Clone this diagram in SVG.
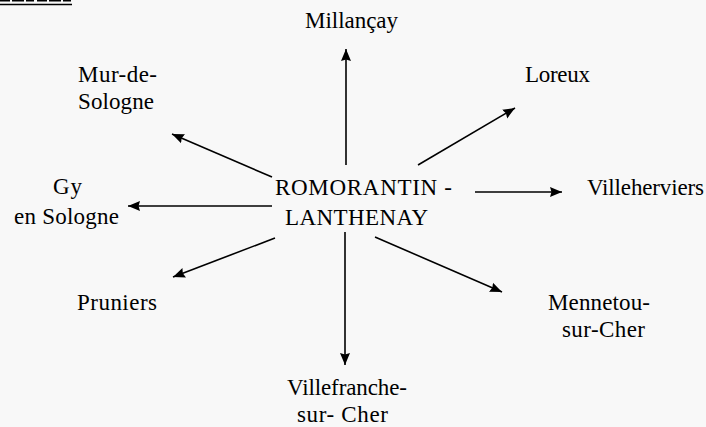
<svg xmlns="http://www.w3.org/2000/svg" width="706" height="427" viewBox="0 0 706 427">
<style>
text{font-family:"Liberation Serif","Times New Roman",serif;font-size:23px;fill:#000}
.c{stroke:#000;stroke-width:1.6;fill:none}
</style>
<defs>
<marker id="ah" markerUnits="userSpaceOnUse" markerWidth="14" markerHeight="12" refX="12" refY="6" orient="auto">
<path d="M0,1 L12,6 L0,11 L1.5,6 Z" fill="#000"/>
</marker>
</defs>
<rect width="706" height="427" fill="#f8f8f8"/>
<g id="title-fragment">
<line x1="0" y1="0.8" x2="72" y2="0.8" stroke="#000" stroke-width="1.5" stroke-dasharray="10,2,12,2,8,3"/>
<line x1="0" y1="4.5" x2="72" y2="4.5" stroke="#000" stroke-width="1.5"/>
</g>
<g id="connectors">
<line class="c" x1="346" y1="165" x2="346" y2="49" marker-end="url(#ah)"/>
<line class="c" x1="345" y1="232" x2="345" y2="365" marker-end="url(#ah)"/>
<line class="c" x1="475" y1="192" x2="562" y2="192" marker-end="url(#ah)"/>
<line class="c" x1="272" y1="206" x2="128" y2="206" marker-end="url(#ah)"/>
<line class="c" x1="272" y1="177" x2="172" y2="134" marker-end="url(#ah)"/>
<line class="c" x1="418" y1="165" x2="515" y2="108" marker-end="url(#ah)"/>
<line class="c" x1="275" y1="238" x2="173" y2="277" marker-end="url(#ah)"/>
<line class="c" x1="375" y1="237" x2="502" y2="292" marker-end="url(#ah)"/>
</g>
<g id="center"><text x="275" y="195" textLength="177">ROMORANTIN -</text><text x="285" y="225" textLength="143">LANTHENAY</text></g>
<g id="millancay"><text x="305" y="28" textLength="93">Millançay</text></g>
<g id="mur"><text x="78" y="82" textLength="79">Mur-de-</text><text x="78" y="109" textLength="76">Sologne</text></g>
<g id="loreux"><text x="525" y="82" textLength="65">Loreux</text></g>
<g id="gy"><text x="53" y="194" textLength="29">Gy</text><text x="14" y="224" textLength="105">en Sologne</text></g>
<g id="villeherviers"><text x="587" y="195" textLength="117">Villeherviers</text></g>
<g id="pruniers"><text x="77" y="310" textLength="80">Pruniers</text></g>
<g id="mennetou"><text x="548" y="310" textLength="102">Mennetou-</text><text x="562" y="337" textLength="83">sur-Cher</text></g>
<g id="villefranche"><text x="287" y="395" textLength="120">Villefranche-</text><text x="297" y="422" textLength="91">sur- Cher</text></g>
</svg>
